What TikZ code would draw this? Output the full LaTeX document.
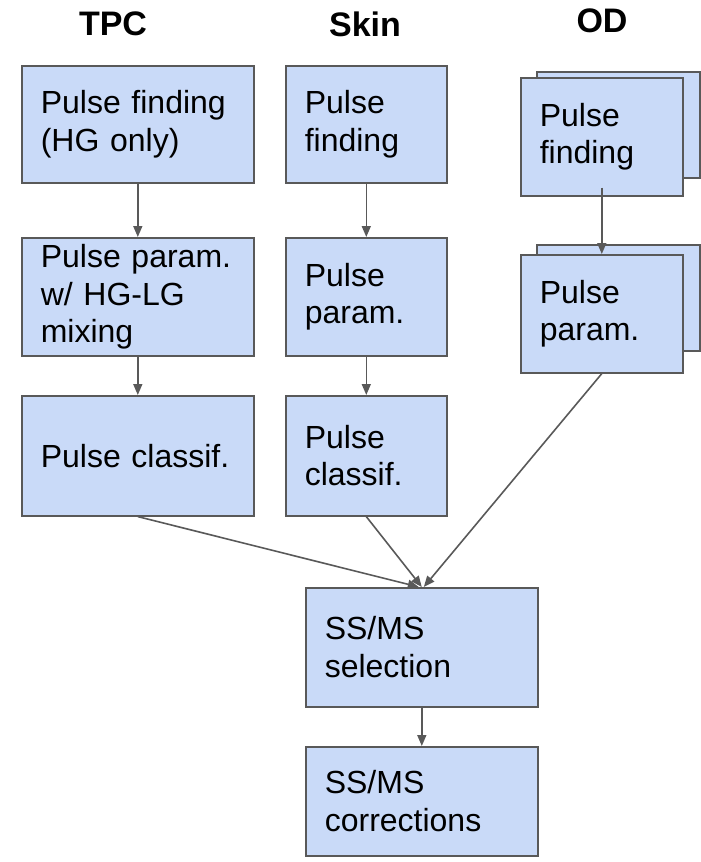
\documentclass[tikz,border=0pt]{standalone}
\usepackage{fontspec}
\setmainfont{Liberation Sans}
\usetikzlibrary{arrows.meta}
\definecolor{boxfill}{HTML}{C9DAF8}
\definecolor{edgegray}{HTML}{595959}
\tikzset{
  pbox/.style={draw=edgegray, line width=1.6pt, fill=boxfill, anchor=north west,
    align=left, inner xsep=19pt, inner ysep=0pt,
    font=\fontsize{32}{37.5}\selectfont, text=black},
  hdr/.style={font=\fontsize{34}{38}\selectfont\bfseries, text=black, inner sep=0pt},
  conn/.style={draw=edgegray, line width=1.6pt, -{Triangle[length=11pt,width=9pt]}},
}
\newcommand{\bx}[6]{% name, x, y, w, h, text
  \node[pbox, text width=#4pt-38pt, minimum width=#4pt, minimum height=#5pt] (#1) at (#2,#3) {#6};}
\begin{document}
\begin{tikzpicture}[x=1pt,y=-1pt]
\useasboundingbox (0,0) rectangle (701,862);
% headers
\node[hdr] (htpc) at (113,24) {TPC};
\node[hdr] (hskin) at (365,24) {Skin};
\node[hdr] (hod) at (602,21) {OD};
% TPC
\bx{t1}{21}{65}{232}{117}{Pulse finding\\(HG only)}
\bx{t2}{21}{237}{232}{118}{Pulse param.\\w/ HG-LG\\mixing}
\bx{t3}{21}{395}{232}{120}{Pulse classif.}
% Skin
\bx{s1}{285}{65}{161}{117}{Pulse\\finding}
\bx{s2}{285}{237}{161}{118}{Pulse\\param.}
\bx{s3}{285}{395}{161}{120}{Pulse\\classif.}
% OD (stacked)
\bx{o1b}{536}{71}{163}{106}{}
\bx{o1}{520}{77}{162}{118}{Pulse\\finding}
\bx{o2b}{536}{244}{163}{106}{}
\bx{o2}{520}{254}{162}{118}{Pulse\\param.}
% SS/MS
\bx{ss}{305}{587}{232}{119}{SS/MS\\selection}
\bx{sc}{305}{746}{232}{109}{SS/MS\\corrections}
% connectors
\draw[conn] (t1.south) -- (t2.north);
\draw[conn] (t2.south) -- (t3.north);
\draw[conn] (s1.south) -- (s2.north);
\draw[conn] (s2.south) -- (s3.north);
\draw[conn] ([yshift=9pt]o1.south) -- (o2.north);
\draw[conn] (t3.south) -- ([xshift=-3pt]ss.north);
\draw[conn] (s3.south) -- (ss.north);
\draw[conn] (o2.south) -- ([xshift=2pt]ss.north);
\draw[conn] (ss.south) -- (sc.north);
\end{tikzpicture}
\end{document}
